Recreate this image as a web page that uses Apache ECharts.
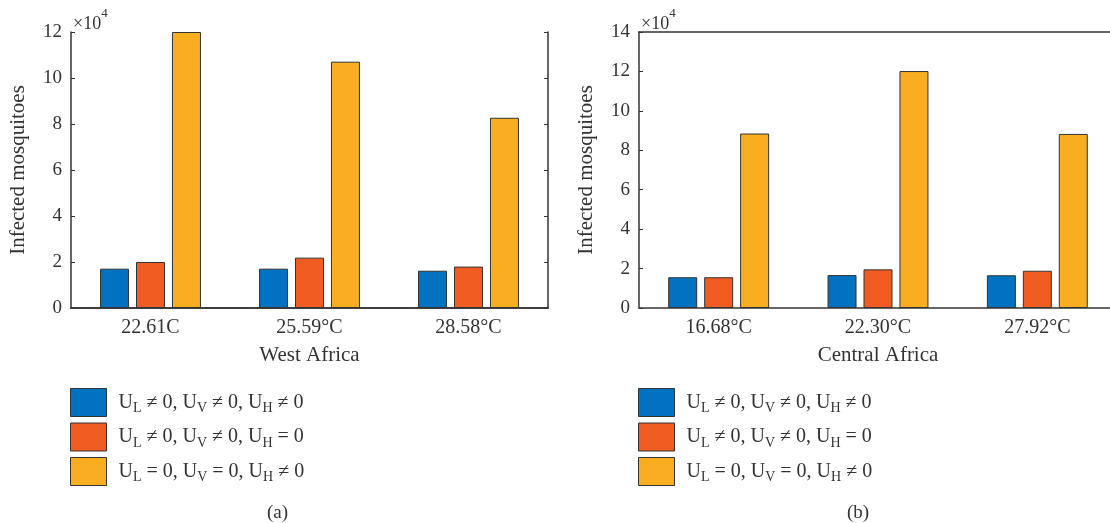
<!DOCTYPE html>
<html>
<head>
<meta charset="utf-8">
<script src="https://cdn.jsdelivr.net/npm/echarts@6/dist/echarts.min.js"></script>
<style>
  html, body { margin: 0; padding: 0; background: #fff; }
  #chart { width: 1110px; height: 523px; }
</style>
</head>
<body>
<div id="chart"></div>
<script>
// values in units of 10^4
const westTemps = ['22.61C', '25.59°C', '28.58°C']
const westAll = [1.71, 1.71, 1.62]
const westNoHuman = [2.0, 2.19, 1.80]
const westHumanOnly = [12.0, 10.71, 8.27]

const centralTemps = ['16.68°C', '22.30°C', '27.92°C']
const centralAll = [1.56, 1.67, 1.66]
const centralNoHuman = [1.56, 1.96, 1.89]
const centralHumanOnly = [8.85, 12.02, 8.83]

const seriesNames = ['all', 'noHuman', 'humanOnly']
const legendText = {
  all: '{m|U}{s|L}{m| ≠ 0, U}{s|V}{m| ≠ 0, U}{s|H}{m| ≠ 0}',
  noHuman: '{m|U}{s|L}{m| ≠ 0, U}{s|V}{m| ≠ 0, U}{s|H}{m| = 0}',
  humanOnly: '{m|U}{s|L}{m| = 0, U}{s|V}{m| = 0, U}{s|H}{m| ≠ 0}',
}
const palette = ['#0072C0', '#F15C22', '#F9AD21']

const font = 'Liberation Serif, DejaVu Serif, serif'
const ink = '#333'
const chart = echarts.init(document.getElementById('chart'))

const grids = [
  { left: 71, top: 32, width: 477, height: 276, outerBoundsMode: 'none', containLabel: false },
  { left: 639, top: 32, width: 478, height: 276, outerBoundsMode: 'none', containLabel: false },
]

function bottomAxis(gridIndex, data, name) {
  return {
    type: 'category', gridIndex, data, name,
    nameLocation: 'middle', nameGap: 37,
    nameTextStyle: { fontFamily: font, fontSize: 21, color: ink },
    axisLine: { lineStyle: { color: ink, width: 1.5 } },
    axisTick: { inside: true, alignWithLabel: true, length: 4, lineStyle: { color: ink } },
    axisLabel: { fontFamily: font, fontSize: 20, color: ink, margin: 10 },
  }
}
function topAxis(gridIndex, data) {
  return {
    type: 'category', gridIndex, data, position: 'top',
    axisLine: { lineStyle: { color: ink, width: 1.5 } },
    axisTick: { inside: true, alignWithLabel: true, length: 4, lineStyle: { color: ink } },
    axisLabel: { show: false },
  }
}
function leftAxis(gridIndex, max) {
  return {
    type: 'value', gridIndex, min: 0, max, interval: 2,
    name: 'Infected mosquitoes', nameLocation: 'middle', nameRotate: 90, nameGap: 42,
    nameTextStyle: { fontFamily: font, fontSize: 21, color: ink },
    axisLine: { show: true, lineStyle: { color: ink, width: 1.5 } },
    axisTick: { show: true, inside: true, length: 4, lineStyle: { color: ink } },
    axisLabel: { fontFamily: font, fontSize: 19, color: ink, margin: 9 },
    splitLine: { show: false },
  }
}
function rightAxis(gridIndex, max) {
  return {
    type: 'value', gridIndex, min: 0, max, interval: 2, position: 'right',
    axisLine: { show: true, lineStyle: { color: ink, width: 1.5 } },
    axisTick: { show: true, inside: true, length: 4, lineStyle: { color: ink } },
    axisLabel: { show: false },
    splitLine: { show: false },
  }
}

function bars(xAxisIndex, yAxisIndex, values) {
  return values.map((data, i) => ({
    name: seriesNames[i], type: 'bar', xAxisIndex, yAxisIndex, data,
    barWidth: 29, barGap: '24%',
    itemStyle: { color: palette[i], borderColor: ink, borderWidth: 1 },
  }))
}

const richLegend = {
  m: { fontFamily: font, fontSize: 20, color: ink, lineHeight: 26 },
  s: { fontFamily: font, fontSize: 14, color: ink, lineHeight: 14, verticalAlign: 'bottom' },
}
function legend(left) {
  return {
    left, top: 388, orient: 'vertical', data: seriesNames, padding: 0,
    itemWidth: 36, itemHeight: 28, itemGap: 5.5,
    icon: 'rect',
    itemStyle: { borderColor: ink, borderWidth: 1 },
    formatter: (n) => legendText[n],
    textStyle: { rich: richLegend, padding: [0, 0, 0, 7] },
    selectedMode: false,
  }
}

const expText = {
  text: '{a|×10}{b|4}',
  textStyle: {
    fontWeight: 'normal',
    rich: {
      a: { fontFamily: font, fontSize: 18, color: ink, lineHeight: 20, verticalAlign: 'bottom' },
      b: { fontFamily: font, fontSize: 13, color: ink, lineHeight: 26, verticalAlign: 'top' },
    },
  },
}

chart.setOption({
  animation: false,
  grid: grids,
  xAxis: [
    bottomAxis(0, westTemps, 'West Africa'),
    bottomAxis(1, centralTemps, 'Central Africa'),
    topAxis(0, westTemps),
    topAxis(1, centralTemps),
  ],
  yAxis: [leftAxis(0, 12), leftAxis(1, 14), rightAxis(0, 12)],
  legend: [legend(70), legend(638)],
  title: [
    { ...expText, left: 68, top: 2 },
    { ...expText, left: 636, top: 2 },
    { text: '(a)', left: 262, top: 499, textStyle: { fontFamily: font, fontSize: 19, fontWeight: 'normal', color: ink } },
    { text: '(b)', left: 842, top: 499, textStyle: { fontFamily: font, fontSize: 19, fontWeight: 'normal', color: ink } },
  ],
  series: [
    ...bars(0, 0, [westAll, westNoHuman, westHumanOnly]),
    ...bars(1, 1, [centralAll, centralNoHuman, centralHumanOnly]),
  ],
})
</script>
</body>
</html>
